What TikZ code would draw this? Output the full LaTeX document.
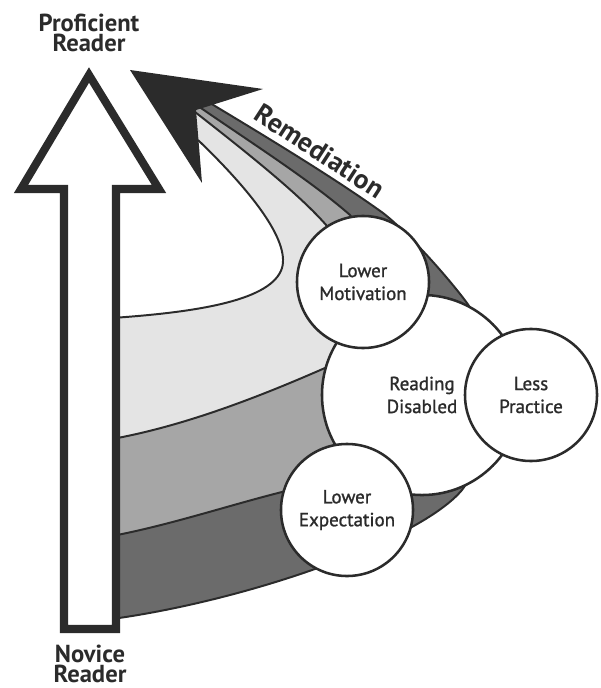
\documentclass[tikz,border=0pt]{standalone}
\usepackage{fontspec}
\setmainfont{PT Sans}
\newfontfamily\factorfont[FakeBold=1.2]{PT Sans}
\definecolor{ink}{HTML}{2B2B2B}
\definecolor{darkband}{HTML}{6B6B6B}
\definecolor{midband}{HTML}{A6A6A6}
\definecolor{lightband}{HTML}{E4E4E4}
\tikzstyle{band}=[draw=ink,line width=1.4pt,line join=round]
\tikzstyle{factor}=[circle,draw=ink,fill=white,line width=1.8pt,minimum size=3.3cm,
  inner sep=0pt,align=center,text=ink,font=\factorfont\fontsize{13.5}{16.3}\selectfont]
\tikzstyle{hollow}=[draw=ink,fill=white,line width=5.7pt,miter limit=10]
\tikzstyle{title}=[text=ink,align=center,font=\fontsize{17.5}{14.2}\selectfont\bfseries]
\setlength{\lineskiplimit}{-20pt}

\begin{document}
\begin{tikzpicture}[x=0.025cm,y=-0.025cm]
  \useasboundingbox (0,0) rectangle (600,688);

  % bands, outermost first
  \draw[band,fill=darkband] (205,100) .. controls (280,145) and (340,182) .. (383,213)
    .. controls (410,234) and (450,280) .. (467,303)
    .. controls (490,335) and (505,430) .. (462,490)
    .. controls (420,540) and (250,600) .. (112,619) -- (112,100) -- cycle;
  \draw[band,fill=midband] (198,106) .. controls (250,142) and (310,180) .. (350,215)
    .. controls (375,250) and (395,295) .. (390,330)
    .. controls (385,380) and (385,440) .. (360,470)
    .. controls (330,480) and (305,486) .. (282,492)
    .. controls (230,505) and (170,525) .. (112,536) -- (112,100) -- cycle;
  \draw[band,fill=lightband] (195,112) .. controls (250,155) and (300,195) .. (327,226)
    .. controls (345,260) and (365,300) .. (360,330)
    .. controls (355,350) and (340,360) .. (325,368)
    .. controls (270,392) and (190,425) .. (112,439) -- (112,100) -- cycle;
  % open inside of the funnel
  \fill[white] (100,318) -- (112,318) .. controls (200,312) and (272,300) .. (282,268)
    .. controls (290,240) and (250,190) .. (198,140) -- (185,95) -- (100,95) -- cycle;
  \draw[band] (112,318) .. controls (200,312) and (272,300) .. (282,268)
    .. controls (290,240) and (250,190) .. (198,140);

  \node[factor,minimum size=5cm] (disabled) at (422,395) {Reading\\Disabled};
  \node[factor] (motivation) at (363,282) {Lower\\Motivation};
  \node[factor] (practice) at (531,395) {Less\\Practice};
  \node[factor] (expectation) at (347,510) {Lower\\Expectation};

  % remediation arrow head
  \fill[ink] (130,70) -- (263,89) -- (196,110) -- (202,183) -- cycle;
  \node[title,font=\fontsize{19.5}{20}\selectfont\bfseries,rotate=-33]
    (remediation) at (320,151) {Remediation};

  % novice -> proficient
  \draw[hollow] (64,629) -- (64,189) -- (21,189) -- (89,75) -- (159,189)
    -- (116,189) -- (116,629) -- cycle;
  \node[title] (proficient) at (89,33) {Proficient\\Reader};
  \node[title] (novice) at (90,664) {Novice\\Reader};
\end{tikzpicture}
\end{document}
